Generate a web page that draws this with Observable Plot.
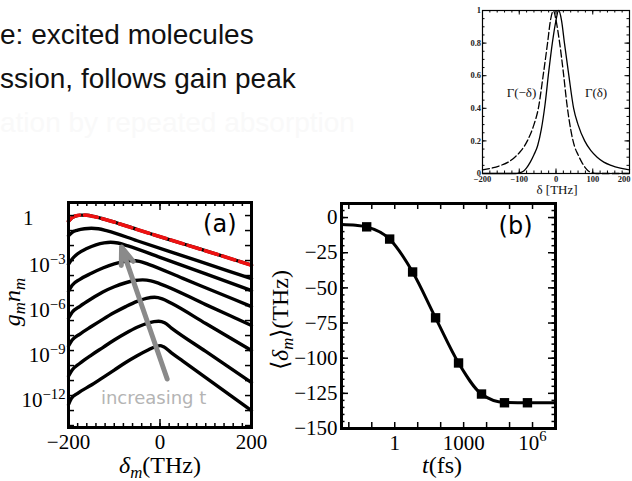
<!DOCTYPE html>
<html><head><meta charset="utf-8">
<script src="https://cdn.jsdelivr.net/npm/d3@7"></script>
<script src="https://cdn.jsdelivr.net/npm/@observablehq/plot@0.6"></script>
<style>
body{margin:0;background:#fff;}
#root{position:relative;width:632px;height:481px;overflow:hidden;background:#fff;}
#root svg{position:absolute;left:0;top:0;}
</style></head><body><div id="root"></div>
<script>
// ---------- data ----------
const slideLines = ["e: excited molecules", "ssion, follows gain peak", "ation by repeated absorption"];
const slideColors = ["#111", "#111", "#f9f9f9"];

// inset: Γ(δ) (solid); Γ(−δ) is the same curve mirrored (dashed)
const insetDelta = [-200,-150,-110,-100,-90,-80,-70,-60,-50,-40,-30,-20,-10,0,7,15,23,35,48,60,78,95,112,130,150,175,200];
const insetGamma = [0,0,0,0.004,0.012,0.035,0.07,0.115,0.17,0.27,0.42,0.62,0.8,0.94,1.0,0.94,0.8,0.6,0.4,0.3,0.2,0.14,0.1,0.07,0.05,0.033,0.022];
const insetYTicks = [0, 0.2, 0.4, 0.6, 0.8, 1];
const insetXTicks = [-200, -100, 0, 100, 200];
const insetLabels = [{delta: -94, gamma: 0.468, text: "Γ(−δ)"}, {delta: 109, gamma: 0.468, text: "Γ(δ)"}];

// panel (a): g_m n_m curves, [δ (THz), log10 value]
const gn1 = [[-200,-0.38],[-193,-0.15],[-185,-0.03],[-172,0.03],[-160,0.02],[-145,-0.06],[-120,-0.26],[-50,-0.93],[50,-1.88],[150,-2.83],[200,-3.31]];
const gn2 = [[-200,-1.35],[-192,-1.12],[-180,-0.97],[-165,-0.88],[-150,-0.85],[-135,-0.88],[-115,-1.02],[-50,-1.68],[50,-2.69],[150,-3.7],[200,-4.2]];
const gn3 = [[-200,-3.25],[-192,-2.9],[-180,-2.55],[-160,-2.2],[-140,-1.95],[-122,-1.82],[-108,-1.78],[-92,-1.83],[-70,-2.02],[0,-2.79],[100,-3.89],[200,-5.0]];
const gn4 = [[-200,-5.05],[-192,-4.65],[-175,-4.25],[-150,-3.85],[-125,-3.5],[-100,-3.22],[-80,-3.07],[-62,-3.0],[-45,-3.05],[-25,-3.25],[50,-4.19],[125,-5.13],[200,-6.07]];
const gn5 = [[-200,-6.85],[-192,-6.45],[-175,-6.05],[-150,-5.55],[-125,-5.1],[-100,-4.75],[-75,-4.48],[-55,-4.33],[-38,-4.29],[-20,-4.35],[0,-4.55],[100,-5.94],[200,-7.33]];
const gn6 = [[-200,-8.7],[-192,-8.3],[-175,-7.9],[-150,-7.4],[-125,-6.92],[-100,-6.47],[-75,-6.07],[-50,-5.72],[-30,-5.52],[-12,-5.45],[5,-5.55],[25,-5.85],[100,-7.2],[200,-9.0]];
const gn7 = [[-200,-10.7],[-192,-10.3],[-175,-9.85],[-150,-9.3],[-125,-8.8],[-100,-8.3],[-75,-7.85],[-50,-7.45],[-25,-7.15],[-3,-7.05],[10,-7.15],[25,-7.5],[100,-9.06],[200,-11.13]];
const gn8 = [[-200,-12.6],[-194,-12.2],[-180,-11.85],[-150,-11.3],[-125,-10.8],[-100,-10.3],[-75,-9.8],[-50,-9.35],[-25,-8.95],[-8,-8.72],[0,-8.67],[8,-8.75],[25,-9.15],[50,-9.7],[100,-10.8],[200,-13.0]];
const aCurves = [gn1, gn2, gn3, gn4, gn5, gn6, gn7, gn8];
const aArrow = [{d1: 15.7, e1: -10.9, d2: -84, e2: -2.1}];
const aNote = [{delta: -14, e: -12.53, text: "increasing t"}];
const aYTicks = [{e: 0, label: "1"}, {e: -3, label: "10^−3"}, {e: -6, label: "10^−6"}, {e: -9, label: "10^−9"}, {e: -12, label: "10^−12"}];
const aXTicks = [{d: -200, label: "−200"}, {d: 0, label: "0"}, {d: 200, label: "200"}];

// panel (b): mean detuning vs time
const bTime = [0.06, 0.6, 6, 60, 600, 6000, 60000, 600000];
const bMean = [-6.6, -15.3, -38.7, -71.3, -103.4, -125.5, -131.7, -131.7];
const bLineTime = [0.0048, 0.02, 0.06, 0.6, 6, 60, 600, 6000, 60000, 600000, 1e7];
const bLineMean = [-5.0, -5.5, -6.6, -15.3, -38.7, -71.3, -103.4, -125.5, -131.5, -131.7, -131.7];
const bYTicks = [0, -25, -50, -75, -100, -125, -150];
const bXTicks = [{t: 1, label: "1"}, {t: 1000, label: "1000"}, {t: 1e6, label: "10^6"}];

// ---------- helpers ----------
const W = 632, H = 481;
const root = document.getElementById("root");
const SERIF = "Liberation Serif, Times New Roman, serif";
const SANS = "DejaVu Sans, sans-serif";
const baseStyle = {background: "none", overflow: "visible"};
function mount(svg) { root.appendChild(svg); return svg; }
function supify(svg) {
  d3.select(svg).selectAll("text").each(function() {
    const m = /^(.*)\^(.+)$/.exec(this.textContent);
    if (!m) return;
    const sel = d3.select(this);
    sel.text(null);
    sel.append("tspan").text(m[1]);
    sel.append("tspan").attr("dy", "-0.55em").attr("font-size", "0.7em").text(m[2]);
  });
}
const minus = v => v < 0 ? "−" + (-v) : String(v);

// ---------- inset ----------
const insetRows = insetDelta.map((d, i) => ({delta: d, gamma: insetGamma[i]}));
const mirrorRows = insetRows.map(r => ({delta: -r.delta, gamma: r.gamma})).reverse();
const iW = 147, iH = 163;
const insetTickFont = {fontSize: 8.5, fontFamily: SERIF, fontWeight: "bold", fill: "#222"};
const inset = Plot.plot({
  width: W, height: H, marginLeft: 482, marginRight: W - 629, marginTop: 10, marginBottom: H - 173,
  style: baseStyle,
  x: {domain: [-200, 200], axis: null},
  y: {domain: [0, 1], axis: null},
  marks: [
    Plot.line(insetRows, {x: "delta", y: "gamma", stroke: "#000", strokeWidth: 1.3, curve: "monotone-x"}),
    Plot.line(mirrorRows, {x: "delta", y: "gamma", stroke: "#000", strokeWidth: 1.3, strokeDasharray: "7,3", curve: "monotone-x"}),
    Plot.tickX(d3.range(-200, 201, 20), {x: d => d, insetTop: iH - 2.5, stroke: "#000"}),
    Plot.tickX(d3.range(-200, 201, 20), {x: d => d, insetBottom: iH - 2.5, stroke: "#000"}),
    Plot.tickX(insetXTicks, {x: d => d, insetTop: iH - 4.5, stroke: "#000"}),
    Plot.tickX(insetXTicks, {x: d => d, insetBottom: iH - 4.5, stroke: "#000"}),
    Plot.tickY(d3.range(0, 1.001, 0.05), {y: d => d, insetRight: iW - 2.5, stroke: "#000"}),
    Plot.tickY(d3.range(0, 1.001, 0.05), {y: d => d, insetLeft: iW - 2.5, stroke: "#000"}),
    Plot.tickY(insetYTicks, {y: d => d, insetRight: iW - 4.5, stroke: "#000"}),
    Plot.tickY(insetYTicks, {y: d => d, insetLeft: iW - 4.5, stroke: "#000"}),
    Plot.frame({stroke: "#000", strokeWidth: 1.2}),
    Plot.text(insetYTicks, {y: d => d, text: d => String(d), frameAnchor: "left", textAnchor: "end", dx: -1.5, ...insetTickFont}),
    Plot.text(insetXTicks.slice(0, -1), {x: d => d, text: d => minus(d), frameAnchor: "bottom", lineAnchor: "bottom", dy: 8, ...insetTickFont}),
    Plot.text(insetXTicks.slice(-1), {x: d => d, text: d => minus(d), frameAnchor: "bottom", lineAnchor: "bottom", textAnchor: "end", dx: 1, dy: 8, ...insetTickFont}),
    Plot.text(["δ [THz]"], {text: d => d, frameAnchor: "bottom", lineAnchor: "bottom", dy: 20.5, dx: 1, fontSize: 13, fontFamily: SERIF, fill: "#111"}),
    Plot.text(insetLabels, {x: "delta", y: "gamma", text: "text", lineAnchor: "bottom", fontSize: 13, fontFamily: SERIF, fill: "#111"})
  ]
});
mount(inset);

// ---------- panel (a) ----------
const aW = 251 - 68, aH = 427 - 202;
const aPlot = Plot.plot({
  width: W, height: H, marginLeft: 68, marginRight: W - 251, marginTop: 202, marginBottom: H - 427,
  style: baseStyle,
  x: {domain: [-200, 200], axis: null},
  y: {type: "log", domain: [10 ** -14.13, 10 ** 0.87], axis: null},
  marks: [
    ...aCurves.map(c => Plot.line(c, {x: d => d[0], y: d => 10 ** d[1], curve: "monotone-x", stroke: "#000", strokeWidth: 3.4, strokeLinejoin: "round"})),
    Plot.line(gn1, {x: d => d[0], y: d => 10 ** d[1], curve: "monotone-x", stroke: "#ee1111", strokeWidth: 3.6, strokeDasharray: "13,5"}),
    Plot.arrow(aArrow, {x1: "d1", y1: d => 10 ** d.e1, x2: "d2", y2: d => 10 ** d.e2, stroke: "#8a8a8a", strokeWidth: 5, headLength: 5.5, headAngle: 40, strokeLinejoin: "miter"}),
    Plot.text(aNote, {x: "delta", y: d => 10 ** d.e, text: "text", lineAnchor: "bottom", fontSize: 18, fontFamily: SANS, fill: "#b4b4b4"}),
    Plot.tickY(d3.range(-14, 1), {y: d => 10 ** d, insetRight: aW - 6, stroke: "#000", strokeWidth: 1.5}),
    Plot.tickY(d3.range(-14, 1), {y: d => 10 ** d, insetLeft: aW - 6, stroke: "#000", strokeWidth: 1.5}),
    Plot.tickX(d3.range(-200, 201, 20), {x: d => d, insetTop: aH - 4, stroke: "#000", strokeWidth: 1.5}),
    Plot.tickX(d3.range(-200, 201, 20), {x: d => d, insetBottom: aH - 4, stroke: "#000", strokeWidth: 1.5}),
    Plot.tickX(aXTicks, {x: "d", insetTop: aH - 8, stroke: "#000", strokeWidth: 1.5}),
    Plot.tickX(aXTicks, {x: "d", insetBottom: aH - 8, stroke: "#000", strokeWidth: 1.5}),
    Plot.frame({stroke: "#000", strokeWidth: 3}),
    Plot.text(aYTicks.filter(d => d.e === 0), {y: d => 10 ** d.e, text: "label", frameAnchor: "left", textAnchor: "end", dx: -35, dy: 3, fontSize: 21, fontFamily: SERIF, fill: "#000"}),
    Plot.text(aYTicks.filter(d => d.e !== 0), {y: d => 10 ** d.e, text: "label", frameAnchor: "left", textAnchor: "end", dx: -3, dy: 5, fontSize: 21, fontFamily: SERIF, fill: "#000"}),
    Plot.text(aXTicks, {x: "d", text: "label", frameAnchor: "bottom", lineAnchor: "bottom", dy: 21, fontSize: 21, fontFamily: SERIF, fill: "#000"}),
    Plot.text(["(a)"], {text: d => d, frameAnchor: "top-right", textAnchor: "end", lineAnchor: "bottom", dx: -15, dy: 29, fontSize: 24, fontFamily: SANS, fill: "#000"})
  ]
});
supify(aPlot);
mount(aPlot);

// ---------- panel (b) ----------
const bRows = bTime.map((t, i) => ({t, v: bMean[i]}));
const bLine = bLineTime.map((t, i) => ({t, v: bLineMean[i]}));
const bW = 555 - 341, bH = 428 - 203;
const bPlot = Plot.plot({
  width: W, height: H, marginLeft: 341, marginRight: W - 555, marginTop: 203, marginBottom: H - 428,
  style: baseStyle,
  x: {type: "log", domain: [0.0048, 1e7], axis: null},
  y: {domain: [-150, 10], axis: null},
  marks: [
    Plot.line(bLine, {x: "t", y: "v", curve: "monotone-x", stroke: "#000", strokeWidth: 3}),
    Plot.dot(bRows, {x: "t", y: "v", symbol: "square", r: 5.3, fill: "#000"}),
    Plot.tickY(d3.range(-150, 11, 5), {y: d => d, insetRight: bW - 3.5, stroke: "#000", strokeWidth: 1.5}),
    Plot.tickY(d3.range(-150, 11, 5), {y: d => d, insetLeft: bW - 3.5, stroke: "#000", strokeWidth: 1.5}),
    Plot.tickY(bYTicks, {y: d => d, insetRight: bW - 7, stroke: "#000", strokeWidth: 1.5}),
    Plot.tickY(bYTicks, {y: d => d, insetLeft: bW - 7, stroke: "#000", strokeWidth: 1.5}),
    Plot.tickX(d3.range(-2, 7), {x: d => 10 ** d, insetTop: bH - 6, stroke: "#000", strokeWidth: 1.5}),
    Plot.tickX(d3.range(-2, 7), {x: d => 10 ** d, insetBottom: bH - 6, stroke: "#000", strokeWidth: 1.5}),
    Plot.frame({stroke: "#000", strokeWidth: 3}),
    Plot.text(bYTicks, {y: d => d, text: d => minus(d), frameAnchor: "left", textAnchor: "end", dx: -4, fontSize: 21, fontFamily: SERIF, fill: "#000"}),
    Plot.text(bXTicks, {x: "t", text: "label", frameAnchor: "bottom", lineAnchor: "bottom", dy: 21, fontSize: 21, fontFamily: SERIF, fill: "#000"}),
    Plot.text(["(b)"], {text: d => d, frameAnchor: "top-right", textAnchor: "end", lineAnchor: "bottom", dx: -23, dy: 30, fontSize: 24, fontFamily: SANS, fill: "#000"})
  ]
});
supify(bPlot);
mount(bPlot);

// ---------- slide text and axis titles ----------
const svg = d3.create("svg").attr("width", W).attr("height", H);
slideLines.forEach((s, i) => {
  svg.append("text").attr("x", 0).attr("y", 44 + i * 43.8)
    .attr("font-family", "Liberation Sans, Arial, sans-serif").attr("font-size", 28)
    .attr("fill", slideColors[i]).text(s);
});
function label(g, parts, size) {
  const t = g.append("text").attr("text-anchor", "middle").attr("font-family", SERIF).attr("font-size", size).attr("fill", "#000");
  parts.forEach(([s, kind]) => {
    const sp = t.append("tspan").text(s);
    if (kind === "i") sp.attr("font-style", "italic");
    if (kind === "sub") sp.attr("font-style", "italic").attr("font-size", size * 0.7).attr("dy", size * 0.22);
    if (kind === "up") sp.attr("dy", -size * 0.22);
    if (kind === "iup") sp.attr("font-style", "italic").attr("dy", -size * 0.22);
  });
  return t;
}
label(svg.append("g").attr("transform", "translate(160,473)"), [["δ", "i"], ["m", "sub"], ["(THz)", "up"]], 24);
label(svg.append("g").attr("transform", "translate(20,302) rotate(-90)"), [["g", "i"], ["m", "sub"], ["n", "iup"], ["m", "sub"]], 24);
label(svg.append("g").attr("transform", "translate(288,320) rotate(-90)"), [["⟨", ""], ["δ", "i"], ["m", "sub"], ["⟩(THz)", "up"]], 24);
label(svg.append("g").attr("transform", "translate(442,473)"), [["t", "i"], ["(fs)", ""]], 24);
mount(svg.node());
</script></body></html>
